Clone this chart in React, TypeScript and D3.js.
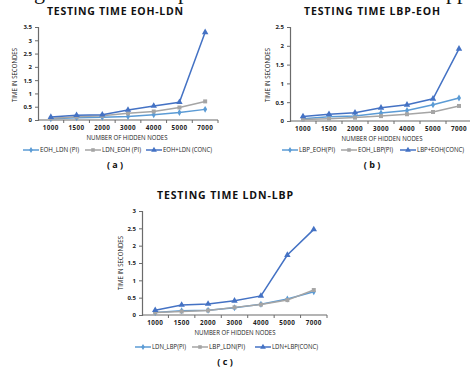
import * as d3 from 'd3';
import React, { useEffect, useRef } from 'react';

// hidden nodes (x categories)
const nodes = ['1000', '1500', '2000', '3000', '4000', '5000', '7000'];

// (a) EOH-LDN
const eohLdnPI = [0.05, 0.08, 0.1, 0.13, 0.2, 0.28, 0.4];
const ldnEohPI = [0.06, 0.12, 0.16, 0.25, 0.32, 0.47, 0.7];
const eohLdnConc = [0.11, 0.18, 0.2, 0.38, 0.53, 0.67, 3.3];
const ticksA = [0, 0.5, 1, 1.5, 2, 2.5, 3, 3.5];

// (b) LBP-EOH
const lbpEohPI = [0.06, 0.11, 0.13, 0.21, 0.28, 0.43, 0.61];
const eohLbpPI = [0.04, 0.06, 0.09, 0.13, 0.18, 0.24, 0.4];
const lbpEohConc = [0.12, 0.18, 0.22, 0.35, 0.43, 0.59, 1.92];
const ticksB = [0, 0.5, 1, 1.5, 2, 2.5];

// (c) LDN-LBP
const ldnLbpPI = [0.07, 0.12, 0.14, 0.21, 0.31, 0.46, 0.67];
const lbpLdnPI = [0.07, 0.1, 0.13, 0.22, 0.3, 0.43, 0.72];
const ldnLbpConc = [0.14, 0.29, 0.32, 0.41, 0.55, 1.73, 2.47];
const ticksC = [0, 0.5, 1, 1.5, 2, 2.5, 3];

const LIGHT = '#5b9bd5';
const GRAY = '#a5a5a5';
const DARK = '#4472c4';
const AXIS = '#6b6b6b';
const FONT = '"Open Sans", "DejaVu Sans", sans-serif';

function drawPanel(svg, p) {
  const g = svg.append('g');

  const x = d3.scaleBand().domain(nodes).range([p.x0, p.x1]);
  const y = d3.scaleLinear().domain([0, p.max]).range([p.y0, p.yTop]);

  // title
  g.append('text')
    .attr('x', p.cx)
    .attr('y', p.titleY)
    .attr('text-anchor', 'middle')
    .attr('textLength', 136)
    .attr('lengthAdjust', 'spacing')
    .style('font-family', FONT)
    .style('font-weight', 700)
    .style('font-size', '10.5px')
    .style('fill', '#111')
    .text(p.title);

  // y axis
  const yAxis = g.append('g')
    .attr('transform', `translate(${p.x0},0)`)
    .call(d3.axisLeft(y).tickValues(p.ticks).tickSize(3).tickFormat(d3.format('~g')));
  yAxis.select('.domain').attr('stroke', AXIS).attr('stroke-width', 1.2);
  yAxis.selectAll('line').attr('stroke', AXIS);
  yAxis.selectAll('text')
    .attr('x', -6)
    .style('font-family', FONT)
    .style('font-weight', 700)
    .style('font-size', '6px')
    .style('fill', '#222');

  // x axis with ticks between categories
  const xg = g.append('g');
  xg.append('line')
    .attr('x1', p.x0).attr('x2', p.x1)
    .attr('y1', p.y0).attr('y2', p.y0)
    .attr('stroke', AXIS).attr('stroke-width', 1.2);
  xg.selectAll('.xtick')
    .data(nodes)
    .enter()
    .append('line')
    .attr('x1', (d) => x(d) + x.bandwidth())
    .attr('x2', (d) => x(d) + x.bandwidth())
    .attr('y1', p.y0)
    .attr('y2', p.y0 + 3)
    .attr('stroke', AXIS);
  xg.selectAll('.xlabel')
    .data(nodes)
    .enter()
    .append('text')
    .attr('x', (d) => x(d) + x.bandwidth() / 2)
    .attr('y', p.y0 + 10)
    .attr('text-anchor', 'middle')
    .style('font-family', FONT)
    .style('font-weight', 700)
    .style('font-size', '6.3px')
    .style('letter-spacing', '0.4px')
    .style('fill', '#222')
    .text((d) => d);

  // axis titles
  g.append('text')
    .attr('x', p.xLabelX)
    .attr('y', p.y0 + 20)
    .attr('text-anchor', 'middle')
    .attr('textLength', 81)
    .attr('lengthAdjust', 'spacingAndGlyphs')
    .style('font-family', FONT)
    .style('font-size', '6.5px')
    .style('fill', '#222')
    .text('NUMBER OF HIDDEN NODES');
  g.append('text')
    .attr('transform', `translate(${p.yLabelX},${p.yLabelY}) rotate(-90)`)
    .attr('text-anchor', 'middle')
    .attr('textLength', 54)
    .attr('lengthAdjust', 'spacingAndGlyphs')
    .style('font-family', FONT)
    .style('font-size', '6.3px')
    .style('fill', '#222')
    .text('TIME IN SECONDES');

  // series
  const line = d3.line()
    .x((d, i) => x(nodes[i]) + x.bandwidth() / 2)
    .y((d) => y(d));

  p.series.forEach((s) => {
    g.append('path')
      .datum(s.values)
      .attr('d', line)
      .attr('fill', 'none')
      .attr('stroke', s.color)
      .attr('stroke-width', 1.5);
    g.selectAll(null)
      .data(s.values)
      .enter()
      .append('path')
      .attr('transform', (d, i) => `translate(${x(nodes[i]) + x.bandwidth() / 2},${y(d)})`)
      .attr('d', d3.symbol().type(s.symbol).size(s.size))
      .attr('fill', s.color);
  });

  // legend
  const lg = g.append('g').attr('transform', `translate(0,${p.legendY})`);
  p.series.forEach((s, i) => {
    const lx = p.legendX[i];
    lg.append('line')
      .attr('x1', lx).attr('x2', lx + 16)
      .attr('stroke', s.color).attr('stroke-width', 1.5);
    lg.append('path')
      .attr('transform', `translate(${lx + 8},0)`)
      .attr('d', d3.symbol().type(s.symbol).size(s.size * 0.8))
      .attr('fill', s.color);
    lg.append('text')
      .attr('x', lx + 17)
      .attr('y', 2.2)
      .attr('textLength', s.textLen)
      .attr('lengthAdjust', 'spacingAndGlyphs')
      .style('font-family', FONT)
      .style('font-size', '6.2px')
      .style('fill', '#222')
      .text(s.name);
  });

  // caption
  g.append('text')
    .attr('x', p.cx)
    .attr('y', p.captionY)
    .attr('text-anchor', 'middle')
    .style('font-family', FONT)
    .style('font-weight', 700)
    .style('font-size', '9px')
    .style('fill', '#111')
    .text(p.caption);
}

export default function App() {
  const svgRef = useRef(null);

  useEffect(() => {
    const svg = d3.select(svgRef.current);
    svg.selectAll('*').remove();

    svg.append('rect').attr('width', 470).attr('height', 367).attr('fill', '#fff');

    // cut-off text from the page line above
    const frag = svg.append('g')
      .style('font-family', '"Liberation Serif", "DejaVu Serif", serif')
      .style('font-size', '22px')
      .style('fill', '#111');
    frag.append('text').attr('x', 34).attr('y', -1).text('g');
    frag.append('text').attr('x', 178).attr('y', -1).text('p');
    frag.append('text').attr('x', 446).attr('y', -1).text('pp');

    const tri = d3.symbolTriangle;
    const sq = d3.symbolSquare;
    const dia = d3.symbolDiamond;

    drawPanel(svg, {
      title: 'TESTING TIME EOH-LDN',
      caption: '( a )',
      cx: 115, titleY: 15, captionY: 168,
      x0: 38, x1: 218, y0: 120, yTop: 27, max: 3.5, ticks: ticksA,
      xLabelX: 127, yLabelX: 17, yLabelY: 75,
      legendY: 150, legendX: [23, 85, 146],
      series: [
        { name: 'EOH_LDN (PI)', values: eohLdnPI, color: LIGHT, symbol: dia, size: 14, textLen: 39 },
        { name: 'LDN_EOH (PI)', values: ldnEohPI, color: GRAY, symbol: sq, size: 16, textLen: 39 },
        { name: 'EOH+LDN (CONC)', values: eohLdnConc, color: DARK, symbol: tri, size: 18, textLen: 49 },
      ],
    });

    drawPanel(svg, {
      title: 'TESTING TIME LBP-EOH',
      caption: '( b )',
      cx: 372, titleY: 15, captionY: 168,
      x0: 290, x1: 472, y0: 121, yTop: 27, max: 2.5, ticks: ticksB,
      xLabelX: 382, yLabelX: 270, yLabelY: 75,
      legendY: 150, legendX: [282, 341, 400],
      series: [
        { name: 'LBP_EOH(PI)', values: lbpEohPI, color: LIGHT, symbol: dia, size: 14, textLen: 36 },
        { name: 'EOH_LBP(PI)', values: eohLbpPI, color: GRAY, symbol: sq, size: 16, textLen: 35 },
        { name: 'LBP+EOH(CONC)', values: lbpEohConc, color: DARK, symbol: tri, size: 18, textLen: 47 },
      ],
    });

    drawPanel(svg, {
      title: 'TESTING TIME LDN-LBP',
      caption: '( c )',
      cx: 225, titleY: 199, captionY: 365,
      x0: 142, x1: 327, y0: 315, yTop: 211, max: 3, ticks: ticksC,
      xLabelX: 235, yLabelX: 123, yLabelY: 263,
      legendY: 347, legendX: [135, 192, 255],
      series: [
        { name: 'LDN_LBP(PI)', values: ldnLbpPI, color: LIGHT, symbol: dia, size: 14, textLen: 34 },
        { name: 'LBP_LDN(PI)', values: lbpLdnPI, color: GRAY, symbol: sq, size: 16, textLen: 36 },
        { name: 'LDN+LBP(CONC)', values: ldnLbpConc, color: DARK, symbol: tri, size: 18, textLen: 46 },
      ],
    });
  }, []);

  return (
    <svg
      ref={svgRef}
      width={470}
      height={367}
      style={{ position: 'absolute', left: 0, top: 0, display: 'block' }}
    />
  );
}
